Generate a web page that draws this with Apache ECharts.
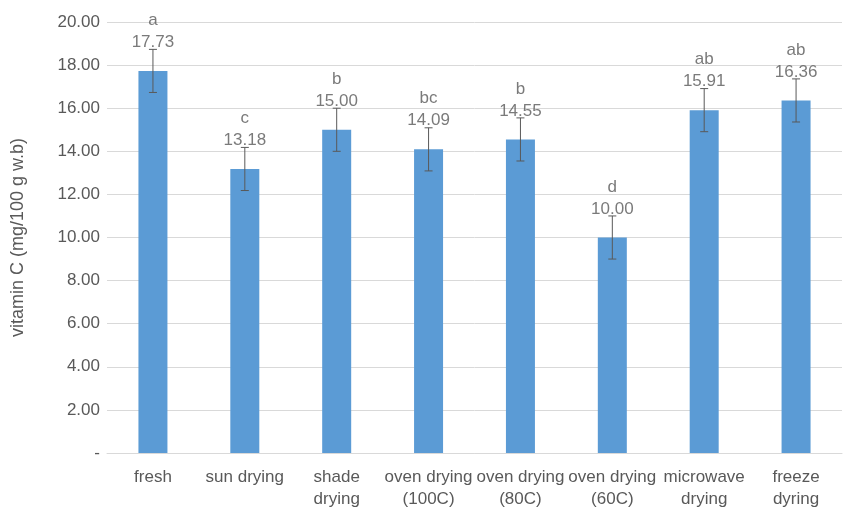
<!DOCTYPE html>
<html>
<head>
<meta charset="utf-8">
<script src="https://cdn.jsdelivr.net/npm/echarts@6/dist/echarts.min.js"></script>
<style>html,body{margin:0;padding:0;background:#fff}#c{width:843px;height:510px}</style>
</head>
<body>
<div id="c"></div>
<script>
var categories = ['fresh', 'sun drying', 'shade\ndrying', 'oven drying\n(100C)', 'oven drying\n(80C)', 'oven drying\n(60C)', 'microwave\ndrying', 'freeze\ndyring'];
var values = [17.73, 13.18, 15.00, 14.09, 14.55, 10.00, 15.91, 16.36];
var errors = [1, 1, 1, 1, 1, 1, 1, 1];
var letters = ['a', 'c', 'b', 'bc', 'b', 'd', 'ab', 'ab'];
var yTicks = [0, 2, 4, 6, 8, 10, 12, 14, 16, 18, 20];

var font = 'Liberation Sans, Arial, Helvetica, sans-serif';
var txt = '#595959';
var chart = echarts.init(document.getElementById('c'));
chart.setOption({
  animation: false,
  grid: {left: 107, right: 1, top: 22, bottom: 54, containLabel: false},
  xAxis: {
    type: 'category', data: categories,
    axisLine: {lineStyle: {color: '#d9d9d9', width: 1}},
    axisTick: {show: false},
    axisLabel: {color: txt, fontFamily: font, fontSize: 17, lineHeight: 22, margin: 13, interval: 0}
  },
  yAxis: {
    type: 'value', min: yTicks[0], max: yTicks[yTicks.length - 1], interval: 2,
    name: 'vitamin C (mg/100 g w.b)', nameLocation: 'middle', nameGap: 80, nameRotate: 90,
    nameTextStyle: {color: txt, fontFamily: font, fontSize: 18},
    axisLine: {show: false}, axisTick: {show: false},
    splitLine: {lineStyle: {color: '#d9d9d9', width: 1}},
    axisLabel: {color: txt, fontFamily: font, fontSize: 17, margin: 7,
      formatter: function (v) { return v === 0 ? '-' : v.toFixed(2); }}
  },
  series: [
    {
      type: 'bar', data: values, barWidth: 29,
      itemStyle: {color: '#5B9BD5'}
    },
    {
      type: 'custom',
      data: values.map(function (v, i) { return [i, v, errors[i]]; }),
      renderItem: function (params, api) {
        var i = api.value(0), v = api.value(1), e = api.value(2);
        var top = api.coord([i, v + e]);
        var bot = api.coord([i, v - e]);
        var x = top[0], cw = 4;
        var st = {stroke: '#595959', lineWidth: 1};
        return {type: 'group', children: [
          {type: 'line', shape: {x1: x, y1: top[1], x2: x, y2: bot[1]}, style: st},
          {type: 'line', shape: {x1: x - cw, y1: top[1], x2: x + cw, y2: top[1]}, style: st},
          {type: 'line', shape: {x1: x - cw, y1: bot[1], x2: x + cw, y2: bot[1]}, style: st}
        ]};
      },
      z: 5
    },
    {
      type: 'scatter', symbolSize: 0,
      data: values.map(function (v, i) { return [i, v + errors[i]]; }),
      label: {
        show: true, position: 'top', distance: -4,
        color: txt, fontFamily: font, fontSize: 17, lineHeight: 22,
        formatter: function (p) { return letters[p.dataIndex] + '\n' + values[p.dataIndex].toFixed(2); }
      },
      z: 6
    }
  ]
});
</script>
</body>
</html>
